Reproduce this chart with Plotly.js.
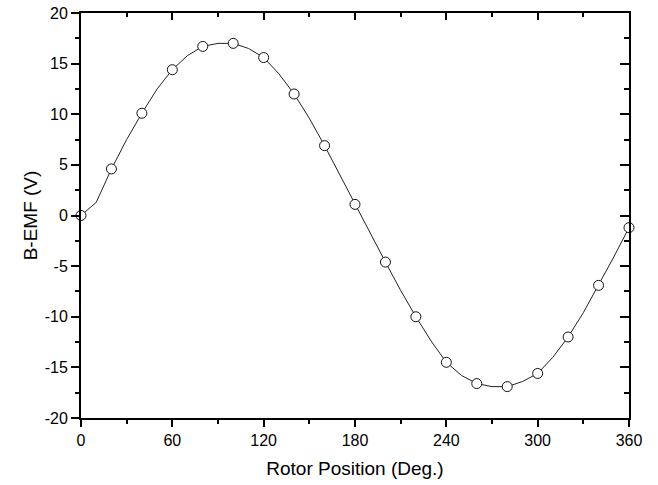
<!DOCTYPE html>
<html>
<head>
<meta charset="utf-8">
<script src="https://cdn.plot.ly/plotly-3.0.1.min.js"></script>
<style>html,body{margin:0;padding:0;background:#fff;}#chart{width:658px;height:485px;}</style>
</head>
<body>
<div id="chart"></div>
<script>
// Curve samples (every 10 degrees)
var curveX = [0,10,20,30,40,50,60,70,80,90,100,110,120,130,140,150,160,170,180,190,200,210,220,230,240,250,260,270,280,290,300,310,320,330,340,350,360];
var curveY = [0,1.3,4.6,7.5,10.1,12.5,14.4,15.8,16.7,17.0,17.0,16.5,15.6,14.0,12.0,9.6,6.9,4.0,1.1,-1.8,-4.6,-7.4,-10.0,-12.4,-14.5,-15.8,-16.6,-16.9,-16.9,-16.4,-15.6,-14.0,-12.0,-9.6,-6.9,-4.1,-1.2];
// Marker points (every 20 degrees)
var markX = [0,20,40,60,80,100,120,140,160,180,200,220,240,260,280,300,320,340,360];
var markY = [0,4.6,10.1,14.4,16.7,17.0,15.6,12.0,6.9,1.1,-4.6,-10.0,-14.5,-16.6,-16.9,-15.6,-12.0,-6.9,-1.2];
var xTicks = [0,60,120,180,240,300,360];
var xTickText = ['0','60','120','180','240','300','360'];
var yTicks = [-20,-15,-10,-5,0,5,10,15,20];
var yTickText = ['-20','-15','-10','-5','0','5','10','15','20'];

var font = 'Arial, "Liberation Sans", Helvetica, sans-serif';
var traces = [
  {x: curveX, y: curveY, xaxis: 'x', yaxis: 'y', mode: 'lines', line: {color: '#222', width: 1}, hoverinfo: 'skip', cliponaxis: false},
  {x: markX, y: markY, xaxis: 'x2', yaxis: 'y2', mode: 'markers', marker: {symbol: 'circle', size: 10, color: '#fff', line: {color: '#111', width: 1}}, cliponaxis: false}
];
var baseX = {range: [0, 360], tickvals: xTicks, ticktext: xTickText, showgrid: false, zeroline: false, showline: true, linecolor: '#000', linewidth: 2, tickwidth: 2, tickcolor: '#000', fixedrange: true};
var baseY = {range: [-20, 20], tickvals: yTicks, ticktext: yTickText, showgrid: false, zeroline: false, showline: true, linecolor: '#000', linewidth: 2, tickwidth: 2, tickcolor: '#000', fixedrange: true};
var layout = {
  width: 658, height: 485,
  margin: {l: 81, r: 29, t: 13, b: 67},
  paper_bgcolor: '#fff', plot_bgcolor: '#fff',
  showlegend: false,
  font: {family: font, color: '#000', size: 16},
  xaxis: Object.assign({}, baseX, {
    ticks: 'outside', ticklen: 7,
    minor: {ticks: 'outside', ticklen: 4, dtick: 30, tickwidth: 2, tickcolor: '#000', showgrid: false},
    tickfont: {size: 16, family: font},
    title: {text: 'Rotor Position (Deg.)', font: {size: 19, family: font}, standoff: 13},
    automargin: false
  }),
  yaxis: Object.assign({}, baseY, {
    ticks: 'outside', ticklen: 8,
    minor: {ticks: 'outside', ticklen: 4, dtick: 2.5, tickwidth: 2, tickcolor: '#000', showgrid: false},
    tickfont: {size: 16, family: font},
    title: {text: 'B-EMF (V)', font: {size: 19, family: font}, standoff: 2},
    automargin: false
  }),
  xaxis2: Object.assign({}, baseX, {
    overlaying: 'x', side: 'top', anchor: 'y2', ticks: 'inside', ticklen: 7, showticklabels: false,
    minor: {ticks: 'inside', ticklen: 4, dtick: 30, tickwidth: 2, tickcolor: '#000', showgrid: false}
  }),
  yaxis2: Object.assign({}, baseY, {
    overlaying: 'y', side: 'right', anchor: 'x2', ticks: 'inside', ticklen: 9, showticklabels: false,
    minor: {ticks: 'inside', ticklen: 5, dtick: 2.5, tickwidth: 2, tickcolor: '#000', showgrid: false}
  })
};
Plotly.newPlot('chart', traces, layout, {staticPlot: true, displayModeBar: false});
</script>
</body>
</html>
